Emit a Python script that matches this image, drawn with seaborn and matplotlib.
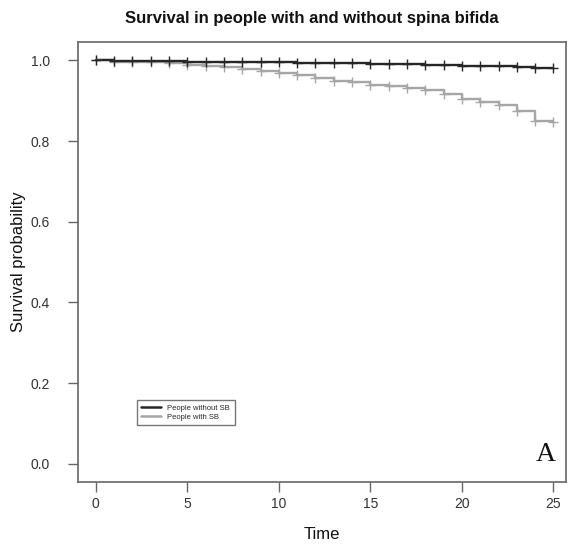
import matplotlib
matplotlib.use("Agg")
import matplotlib.pyplot as plt
import numpy as np
import pandas as pd
import seaborn as sns
from matplotlib.lines import Line2D

# Kaplan-Meier style estimates (value at each integer time)
TIME = list(range(0, 26))
SURV_WITHOUT_SB = [1.000, 0.999, 0.999, 0.998, 0.998, 0.997, 0.997, 0.996, 0.996,
                   0.995, 0.995, 0.994, 0.994, 0.993, 0.993, 0.992, 0.991, 0.990,
                   0.989, 0.988, 0.987, 0.986, 0.985, 0.984, 0.982, 0.980]
SURV_WITH_SB = [1.000, 0.997, 0.996, 0.995, 0.993, 0.989, 0.986, 0.983, 0.978,
                0.975, 0.970, 0.963, 0.956, 0.950, 0.947, 0.940, 0.936, 0.931,
                0.926, 0.918, 0.904, 0.897, 0.889, 0.875, 0.851, 0.848]
GROUPS = ["People without SB", "People with SB"]
COLORS = {"People without SB": "#262626", "People with SB": "#a6a6a6"}

X_TICKS = [0, 5, 10, 15, 20, 25]
Y_TICKS = [0.0, 0.2, 0.4, 0.6, 0.8, 1.0]

df = pd.concat([
    pd.DataFrame({"time": TIME, "surv": SURV_WITHOUT_SB, "group": GROUPS[0]}),
    pd.DataFrame({"time": TIME, "surv": SURV_WITH_SB, "group": GROUPS[1]}),
])

sns.set_style("white")
plt.rcParams["font.family"] = ["Liberation Sans", "DejaVu Sans"]

fig = plt.figure(figsize=(5.72, 5.49), dpi=100)
ax = fig.add_axes([0.136, 0.122, 0.854, 0.801])

# draw the grey curve first so the black one sits on top
for g in [GROUPS[1], GROUPS[0]]:
    sub = df[df["group"] == g]
    sns.lineplot(data=sub, x="time", y="surv", color=COLORS[g], drawstyle="steps-post",
                 linewidth=1.7, estimator=None, ax=ax, legend=False)
    sns.scatterplot(data=sub, x="time", y="surv", color=COLORS[g], marker="+",
                    s=60, linewidth=1.0, ax=ax, legend=False, zorder=3)

ax.set_xlim(-0.98, 25.7)
ax.set_ylim(-0.045, 1.045)
ax.set_xticks(X_TICKS)
ax.set_yticks(Y_TICKS)
ax.set_xticklabels([str(t) for t in X_TICKS])
ax.set_yticklabels([f"{t:.1f}" for t in Y_TICKS])
ax.tick_params(axis="both", direction="out", length=7, width=1, color="#666666",
               labelsize=10, labelcolor="#333333", bottom=True, left=True)
ax.tick_params(axis="x", pad=4)
ax.tick_params(axis="y", pad=13)
for sp in ax.spines.values():
    sp.set_color("#666666")
    sp.set_linewidth(1.2)

ax.set_xlabel("Time", fontsize=12, color="#111111", labelpad=11)
ax.set_ylabel("Survival probability", fontsize=12, color="#111111", labelpad=3)

handles = [Line2D([0], [0], color=COLORS[g], lw=1.8) for g in GROUPS]
leg = ax.legend(handles, GROUPS, loc="lower left", bbox_to_anchor=(0.113, 0.12),
                fontsize=5.5, frameon=True, fancybox=False, handlelength=2.6,
                borderpad=0.6, labelspacing=0.2, handletextpad=0.8)
leg.get_frame().set_edgecolor("#555555")
leg.get_frame().set_linewidth(1.0)

ax.text(0.978, 0.035, "A", transform=ax.transAxes, ha="right", va="bottom",
        fontsize=20, family="Liberation Serif", color="#111111")

fig.text(0.545, 0.967, "Survival in people with and without spina bifida",
         ha="center", va="center", fontsize=12, fontweight="bold", color="#111111")

fig.savefig("out.png", dpi=100)
